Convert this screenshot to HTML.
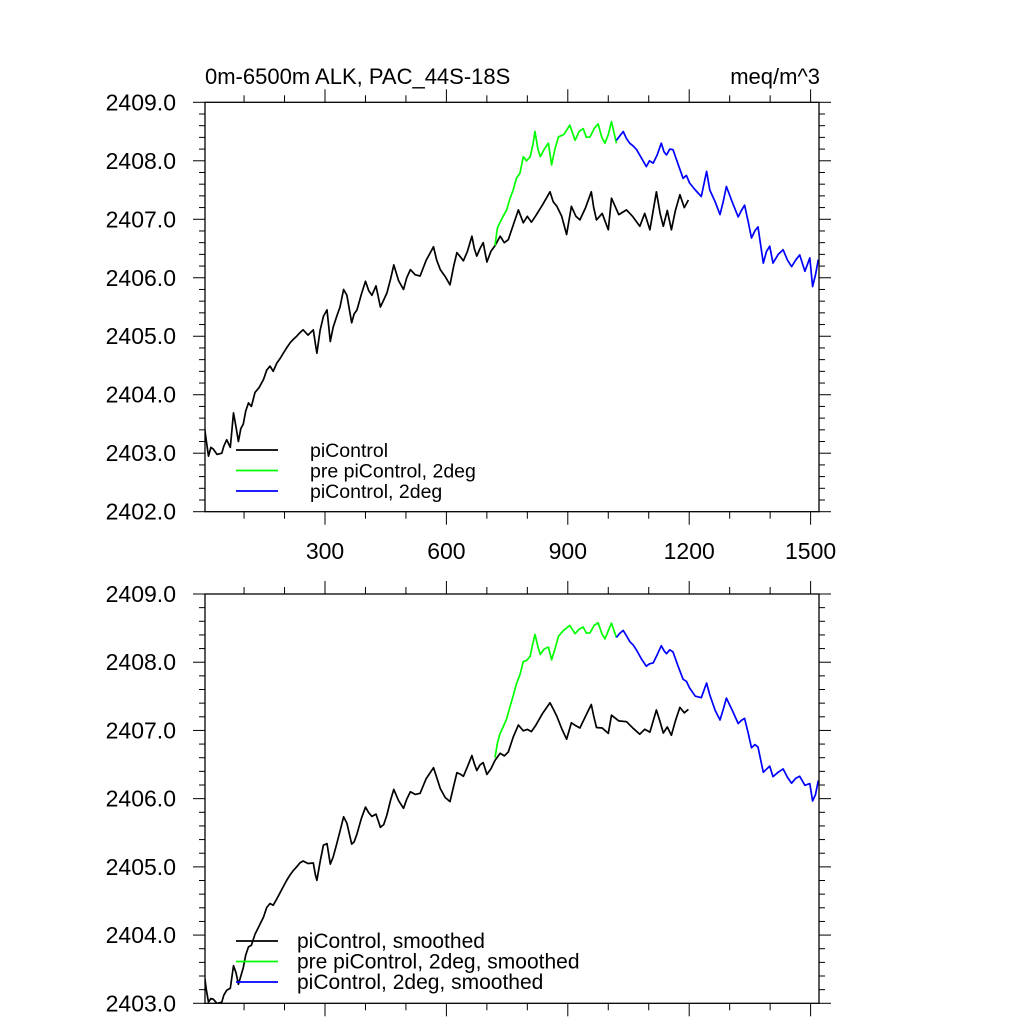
<!DOCTYPE html>
<html><head><meta charset="utf-8"><style>
body{margin:0;background:#fff}
svg{display:block;font-family:"Liberation Sans",Arial,sans-serif}
</style></head><body>
<svg id="chart" width="1024" height="1024" viewBox="0 0 1024 1024" xmlns="http://www.w3.org/2000/svg">
<rect width="1024" height="1024" fill="#fff"/>
<text x="205" y="84" font-size="22">0m-6500m ALK, PAC_44S-18S</text>
<text x="820" y="84" font-size="22" text-anchor="end">meq/m^3</text>
<g id="top"></g>
<g id="bot"></g>
</svg>
<script>
const blackX=[3,7,12,18,24,33,45,50,57,66,74,80,86,92,98,104,111,118,127,137,148,156,164,172,181,189,197,205,214,222,230,238,246,258,271,276,280,288,296,305,313,320,329,337,346,354,366,372,379,390,400,408,416,426,437,445,453,462,470,482,494,502,511,523,535,550,568,576,585,597,609,618,626,634,642,652,663,669,675,683,691,700,710,720,733,743,753,765,778,790,800,810,820,838,856,864,873,885,897,909,920,930,944,958,964,971,985,1000,1008,1026,1045,1060,1078,1090,1103,1119,1128,1136,1146,1156,1166,1177,1188,1198];
const blackY=[2403.40,2403.2,2402.95,2403.1,2403.07,2402.98,2403.0,2403.12,2403.23,2403.1,2403.69,2403.45,2403.2,2403.42,2403.5,2403.72,2403.86,2403.8,2404.04,2404.12,2404.26,2404.42,2404.49,2404.4,2404.54,2404.62,2404.71,2404.8,2404.89,2404.95,2405.0,2405.06,2405.11,2405.02,2405.11,2404.88,2404.71,2405.1,2405.34,2405.45,2404.91,2405.15,2405.34,2405.5,2405.8,2405.7,2405.23,2405.38,2405.45,2405.72,2405.94,2405.78,2405.7,2405.86,2405.5,2405.62,2405.74,2405.98,2406.22,2405.95,2405.8,2406.0,2406.14,2406.05,2406.03,2406.3,2406.53,2406.3,2406.14,2406.02,2405.88,2406.2,2406.43,2406.36,2406.29,2406.45,2406.71,2406.5,2406.37,2406.5,2406.6,2406.27,2406.45,2406.55,2406.71,2406.6,2406.65,2406.9,2407.16,2406.94,2407.05,2406.95,2407.05,2407.25,2407.47,2407.3,2407.22,2407.05,2406.74,2407.22,2407.05,2406.99,2407.2,2407.47,2407.2,2406.99,2407.1,2406.82,2407.36,2407.08,2407.16,2407.05,2406.88,2407.1,2406.82,2407.47,2407.1,2406.88,2407.15,2406.82,2407.15,2407.42,2407.2,2407.33];
const greenX=[720,726,732,740,749,757,765,773,782,790,798,807,813,819,826,832,842,852,860,868,877,890,905,918,928,938,946,955,965,975,984,992,1000,1008,1020];
const greenY=[2406.55,2406.85,2406.94,2407.05,2407.16,2407.35,2407.5,2407.7,2407.79,2408.07,2408.0,2408.07,2408.25,2408.5,2408.2,2408.07,2408.2,2408.3,2407.93,2408.2,2408.41,2408.45,2408.61,2408.35,2408.5,2408.55,2408.4,2408.41,2408.55,2408.63,2408.4,2408.3,2408.45,2408.67,2408.3];
const blueX=[1020,1028,1037,1045,1053,1062,1070,1082,1094,1102,1111,1121,1131,1138,1144,1152,1160,1172,1185,1193,1201,1215,1230,1243,1251,1264,1276,1284,1292,1306,1321,1329,1337,1346,1354,1362,1370,1383,1391,1399,1407,1420,1432,1443,1453,1463,1473,1486,1498,1505,1512,1519];
const blueY=[2408.35,2408.42,2408.5,2408.38,2408.3,2408.25,2408.19,2408.05,2407.9,2408.0,2407.96,2408.1,2408.3,2408.15,2408.1,2408.2,2408.19,2407.95,2407.7,2407.75,2407.62,2407.5,2407.39,2407.82,2407.5,2407.3,2407.08,2407.3,2407.56,2407.3,2407.04,2407.15,2407.24,2406.95,2406.68,2406.8,2406.87,2406.25,2406.45,2406.54,2406.25,2406.4,2406.48,2406.3,2406.19,2406.3,2406.39,2406.11,2406.34,2405.85,2406.05,2406.31];
const xTicks=[300,600,900,1200,1500];
const xTickLabels=["300","600","900","1200","1500"];

const NS="http://www.w3.org/2000/svg";
function mk(tag,attrs,parent){const e=document.createElementNS(NS,tag);for(const k in attrs)e.setAttribute(k,attrs[k]);parent.appendChild(e);return e;}
const L=205,R=819;
function xs(v){return 325+(v-300)*121.4/300;}
function smooth(a){return a.map((v,i)=>{const p=a[Math.max(0,i-1)],n=a[Math.min(a.length-1,i+1)];return (p+4*v+n)/6;});}

function panel(g,top,bottom,ymin,ymax,showXLabels,legendY,legendTextX,names,sm,id,lfs){
  const ys=v=>bottom-(v-ymin)*(bottom-top)/(ymax-ymin);
  const cp=mk('clipPath',{id:'clip'+id},g);
  mk('rect',{x:L,y:top,width:R-L,height:bottom-top},cp);
  for(let k=0;k<=(ymax-ymin)*5;k++){
    const v=ymin+k*0.2,y=ys(v),major=k%5===0,len=major?12:6;
    const t1=mk('line',{x1:L-len,x2:L,y1:y,y2:y,stroke:'#000','stroke-width':1},g);
    
    
    const t2=mk('line',{x1:R,x2:R+len,y1:y,y2:y,stroke:'#000','stroke-width':1},g);
    
    
    if(major){
      const t=mk('text',{x:176,y:y+8,'font-size':23,'text-anchor':'end'},g);
      t.textContent=v.toFixed(1);
      
      
    }
  }
  for(let v=100;v<=1500;v+=100){
    const x=xs(v);if(x<L||x>R)continue;
    const major=v%300===0,len=major?13:7;
    const a=mk('line',{x1:x,x2:x,y1:bottom,y2:bottom+len,stroke:'#000','stroke-width':1},g);
    
    
    const b=mk('line',{x1:x,x2:x,y1:top-len,y2:top,stroke:'#000','stroke-width':1},g);
    
    
  }
  if(showXLabels){
    xTicks.forEach((v,i)=>{
      const t=mk('text',{x:xs(v),y:559,'font-size':23,'text-anchor':'middle'},g);
      t.textContent=xTickLabels[i];
      
      
    });
  }
  const series=[[blackX,blackY,'#000'],[greenX,greenY,'#00ff00'],[blueX,blueY,'#0000ff']];
  const sg=mk('g',{'clip-path':'url(#clip'+id+')'},g);
  series.forEach((s,i)=>{
    const yv=sm?smooth(s[1]):s[1];
    const d=s[0].map((x,j)=>(j?'L':'M')+xs(x).toFixed(1)+','+ys(yv[j]).toFixed(1)).join('');
    const p=mk('path',{d:d,fill:'none',stroke:s[2],'stroke-width':1.7,'stroke-linejoin':'round'},sg);
    
    
  });
  series.forEach((s,i)=>{
    const y=legendY+i*20.5;
    const l=mk('line',{x1:236,x2:278,y1:y,y2:y,stroke:s[2],'stroke-width':1.7},g);
    
    
    const t=mk('text',{x:legendTextX,y:y+7,'font-size':lfs},g);
    t.textContent=names[i];
    
    
  });
  const f=mk('rect',{x:L,y:top,width:R-L,height:bottom-top,fill:'none',stroke:'#000','stroke-width':1.3},g);
  
  
}
panel(document.getElementById('top'),102.3,511.7,2402,2409,true,450,310,['piControl','pre piControl, 2deg','piControl, 2deg'],false,'a',19.5);
panel(document.getElementById('bot'),594,1003.3,2403,2409,false,941,297,['piControl, smoothed','pre piControl, 2deg, smoothed','piControl, 2deg, smoothed'],true,'b',21);
</script>
</body></html>
